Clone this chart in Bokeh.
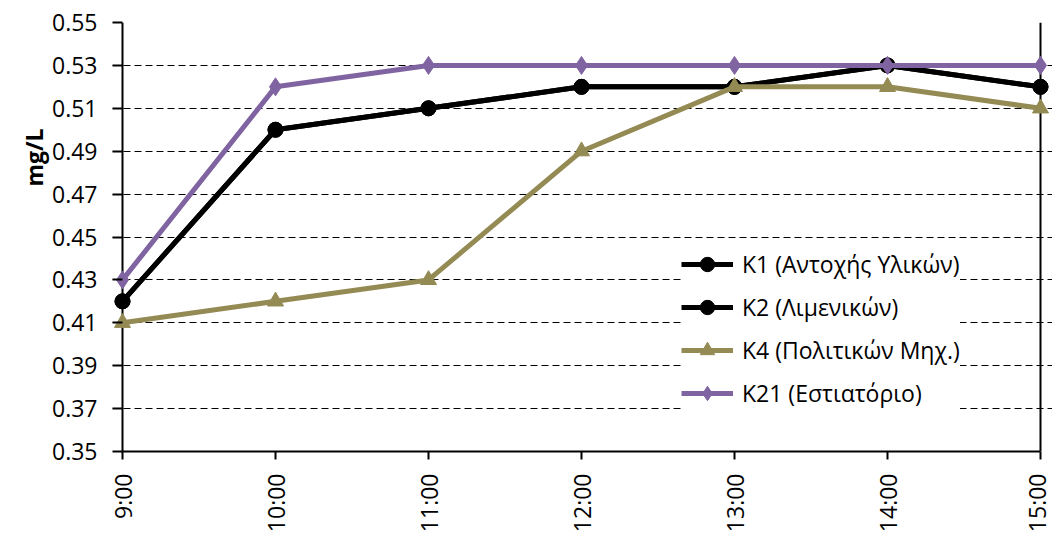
import math
from bokeh.plotting import figure
from bokeh.models import Range1d, FixedTicker, Span, Legend, LegendItem, Title, NumeralTickFormatter
from bokeh.embed import file_html
from bokeh.resources import INLINE

times = ["9:00", "10:00", "11:00", "12:00", "13:00", "14:00", "15:00"]
k1 = [0.42, 0.50, 0.51, 0.52, 0.52, 0.53, 0.52]
k2 = [0.42, 0.50, 0.51, 0.52, 0.52, 0.53, 0.52]
k4 = [0.41, 0.42, 0.43, 0.49, 0.52, 0.52, 0.51]
k21 = [0.43, 0.52, 0.53, 0.53, 0.53, 0.53, 0.53]
y_ticks = [0.35, 0.37, 0.39, 0.41, 0.43, 0.45, 0.47, 0.49, 0.51, 0.53, 0.55]

names = ["K1 (Αντοχής Υλικών)", "K2 (Λιμενικών)", "K4 (Πολιτικών Μηχ.)", "K21 (Εστιατόριο)"]
series = [k1, k2, k4, k21]
colors = ["#000000", "#000000", "#948A54", "#8064A2"]
markers = ["circle", "circle", "triangle", "diamond"]
msizes = [15, 15, 16, 18]

FONT = "Open Sans"
FS = "23px"
xs = list(range(len(times)))

p = figure(width=1052, height=535, output_backend="svg", toolbar_location=None,
           x_range=Range1d(-10 / 153, len(times) - 1 + 12 / 153), y_range=Range1d(y_ticks[0], y_ticks[-1]),
           min_border_left=112, min_border_right=0, min_border_top=22, min_border_bottom=83)
p.outline_line_color = None
p.background_fill_color = "white"
p.border_fill_color = "white"

# x axis
xa = p.xaxis[0]
xa.ticker = FixedTicker(ticks=xs)
xa.major_label_overrides = {i: t for i, t in enumerate(times)}
xa.bounds = (xs[0], xs[-1])
xa.major_label_orientation = math.pi / 2
xa.axis_line_width = 2
xa.axis_line_color = "black"
xa.major_tick_line_width = 2
xa.major_tick_in = 0
xa.major_tick_out = 8
xa.minor_tick_line_color = None
xa.major_label_standoff = 14
xa.major_label_text_font = FONT
xa.major_label_text_font_size = FS
xa.major_label_text_color = "black"

# y axis
ya = p.yaxis[0]
ya.ticker = FixedTicker(ticks=y_ticks)
ya.formatter = NumeralTickFormatter(format="0.00")
ya.axis_line_color = None
ya.major_tick_line_width = 2
ya.major_tick_line_color = "black"
ya.major_tick_in = 10
ya.major_tick_out = 0
ya.minor_tick_line_color = None
ya.major_label_standoff = 15
ya.major_label_text_font = FONT
ya.major_label_text_font_size = FS
ya.major_label_text_color = "black"

p.xgrid.grid_line_color = None
p.ygrid.ticker = FixedTicker(ticks=y_ticks)
p.ygrid.grid_line_color = "black"
p.ygrid.grid_line_width = 1
p.ygrid.grid_line_dash = "7 4"

p.add_layout(Span(location=xs[0], dimension="height", line_color="black", line_width=2, level="underlay"))
p.add_layout(Span(location=xs[-1], dimension="height", line_color="black", line_width=2, level="underlay"))

items = []
for name, ys, c, m, s in zip(names, series, colors, markers, msizes):
    r1 = p.line(xs, ys, line_color=c, line_width=5)
    r2 = p.scatter(xs, ys, marker=m, size=s, fill_color=c, line_color=c)
    items.append(LegendItem(label=name, renderers=[r1, r2]))

legend = Legend(items=items, location=(569, 40), background_fill_color="white", background_fill_alpha=1.0,
                border_line_color=None, padding=10, spacing=7, glyph_width=52, glyph_height=36,
                label_standoff=9, label_text_font=FONT, label_text_font_size=FS,
                label_text_color="black", margin=0)
p.add_layout(legend, "center")

p.add_layout(Title(text="mg/L", align="right", offset=106, text_font=FONT, text_font_size=FS,
                   text_font_style="bold", text_color="black", standoff=0), "left")

open("out.html", "w").write(file_html(p, INLINE))
